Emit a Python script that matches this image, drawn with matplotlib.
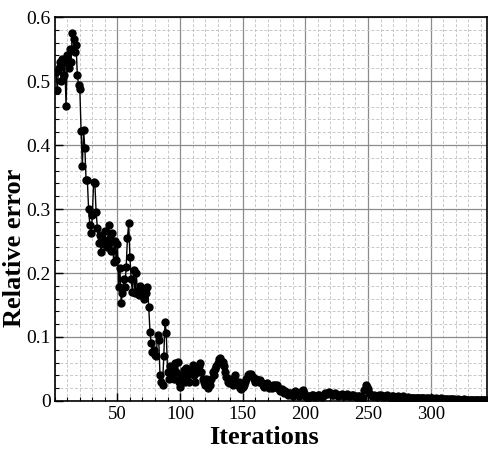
import matplotlib
matplotlib.use("Agg")
import matplotlib.pyplot as plt
from matplotlib.ticker import MultipleLocator
import numpy as np

# Relative error per iteration
err_01_50 = [0.514, 0.486, 0.520, 0.530, 0.500, 0.535, 0.510, 0.530, 0.461, 0.540,
             0.520, 0.550, 0.530, 0.575, 0.565, 0.545, 0.556, 0.510, 0.494, 0.488,
             0.422, 0.367, 0.423, 0.395, 0.345, 0.345, 0.300, 0.275, 0.262, 0.290,
             0.342, 0.340, 0.295, 0.270, 0.247, 0.260, 0.233, 0.255, 0.245, 0.265,
             0.250, 0.240, 0.275, 0.255, 0.235, 0.262, 0.217, 0.250, 0.220, 0.245]
err_51_100 = [0.178, 0.208, 0.153, 0.169, 0.190, 0.178, 0.210, 0.255, 0.278, 0.225,
              0.190, 0.170, 0.205, 0.169, 0.200, 0.172, 0.165, 0.180, 0.170, 0.175,
              0.160, 0.172, 0.168, 0.178, 0.147, 0.108, 0.090, 0.077, 0.080, 0.072,
              0.070, 0.103, 0.095, 0.040, 0.030, 0.025, 0.070, 0.123, 0.106, 0.045,
              0.035, 0.055, 0.040, 0.048, 0.035, 0.060, 0.045, 0.061, 0.030, 0.022]
err_101_150 = [0.040, 0.035, 0.048, 0.030, 0.052, 0.040, 0.030, 0.045, 0.050, 0.056,
               0.040, 0.030, 0.050, 0.045, 0.055, 0.059, 0.045, 0.035, 0.030, 0.025,
               0.035, 0.020, 0.030, 0.025, 0.035, 0.045, 0.040, 0.050, 0.055, 0.060,
               0.065, 0.067, 0.062, 0.061, 0.055, 0.045, 0.038, 0.030, 0.028, 0.035,
               0.030, 0.025, 0.035, 0.040, 0.030, 0.025, 0.030, 0.020, 0.018, 0.022]
err_151_200 = [0.025, 0.030, 0.035, 0.040, 0.042, 0.040, 0.042, 0.038, 0.035, 0.030,
               0.035, 0.033, 0.030, 0.033, 0.028, 0.025, 0.022, 0.025, 0.028, 0.025,
               0.020, 0.022, 0.020, 0.025, 0.022, 0.025, 0.025, 0.020, 0.018, 0.015,
               0.018, 0.015, 0.012, 0.015, 0.013, 0.010, 0.012, 0.012, 0.010, 0.008,
               0.010, 0.015, 0.012, 0.010, 0.008, 0.010, 0.015, 0.017, 0.012, 0.008]
err_201_250 = [0.006, 0.005, 0.008, 0.007, 0.009, 0.009, 0.007, 0.006, 0.008, 0.010,
               0.009, 0.007, 0.006, 0.008, 0.010, 0.012, 0.011, 0.013, 0.014, 0.012,
               0.010, 0.009, 0.011, 0.012, 0.010, 0.008, 0.009, 0.010, 0.011, 0.009,
               0.008, 0.010, 0.011, 0.009, 0.008, 0.007, 0.009, 0.010, 0.008, 0.007,
               0.006, 0.008, 0.007, 0.006, 0.005, 0.004, 0.017, 0.025, 0.022, 0.018]
err_251_300 = [0.012, 0.009, 0.008, 0.007, 0.009, 0.008, 0.006, 0.007, 0.009, 0.010,
               0.008, 0.007, 0.006, 0.008, 0.009, 0.007, 0.006, 0.005, 0.007, 0.008,
               0.006, 0.005, 0.006, 0.007, 0.006, 0.005, 0.006, 0.007, 0.005, 0.004,
               0.005, 0.006, 0.004, 0.004, 0.005, 0.004, 0.004, 0.005, 0.004, 0.004,
               0.004, 0.005, 0.004, 0.004, 0.004, 0.003, 0.004, 0.004, 0.003, 0.004]
err_301_345 = [0.004, 0.003, 0.003, 0.004, 0.003, 0.003, 0.003, 0.004, 0.003, 0.003,
               0.003, 0.003, 0.003, 0.002, 0.003, 0.003, 0.003, 0.002, 0.003, 0.002,
               0.002, 0.003, 0.002, 0.002, 0.002, 0.002, 0.003, 0.002, 0.002, 0.002,
               0.002, 0.002, 0.002, 0.002, 0.001, 0.002, 0.002, 0.002, 0.001, 0.002,
               0.001, 0.001, 0.002, 0.001, 0.001]

errors = (err_01_50 + err_51_100 + err_101_150 + err_151_200 +
          err_201_250 + err_251_300 + err_301_345)
iterations = list(range(1, len(errors) + 1))

x_ticks = [50, 100, 150, 200, 250, 300]
y_ticks = [0, 0.1, 0.2, 0.3, 0.4, 0.5, 0.6]
y_tick_labels = ["0", "0.1", "0.2", "0.3", "0.4", "0.5", "0.6"]

plt.rcParams['font.family'] = ['Liberation Serif', 'DejaVu Serif']

fig = plt.figure(figsize=(4.89, 4.5), dpi=100)
ax = fig.add_axes([0.112, 0.109, 0.884, 0.853])

ax.plot(iterations, errors, color='black', linewidth=1.0, marker='o',
        markersize=5, markerfacecolor='black', markeredgecolor='black', zorder=3)

ax.set_xlim(0, 345)
ax.set_ylim(0, 0.6)
ax.set_xticks(x_ticks)
ax.set_yticks(y_ticks)
ax.set_yticklabels(y_tick_labels)
ax.xaxis.set_minor_locator(MultipleLocator(10))
ax.yaxis.set_minor_locator(MultipleLocator(0.02))

ax.grid(which='major', color='#8c8c8c', linestyle='-', linewidth=0.9, zorder=0)
ax.grid(which='minor', color='#c8c8c8', linestyle=(0, (3, 2)), linewidth=0.7, zorder=0)
ax.set_axisbelow(True)

ax.tick_params(which='both', direction='in', top=False, right=False)
ax.tick_params(axis='x', labelsize=13.5)
ax.tick_params(axis='y', labelsize=14, pad=3)
ax.tick_params(which='major', length=6, width=1)
ax.tick_params(which='minor', length=3, width=0.8)
for s in ax.spines.values():
    s.set_linewidth(1.2)

ax.set_xlabel('Iterations', fontsize=19, fontweight='bold')
ax.set_ylabel('Relative error', fontsize=19, fontweight='bold')
ax.xaxis.set_label_coords(0.484, -0.094)
ax.xaxis.label.set_verticalalignment('center')
ax.yaxis.set_label_coords(-0.094, 0.40)
ax.yaxis.label.set_verticalalignment('center')

fig.savefig('out.png', dpi=100)
